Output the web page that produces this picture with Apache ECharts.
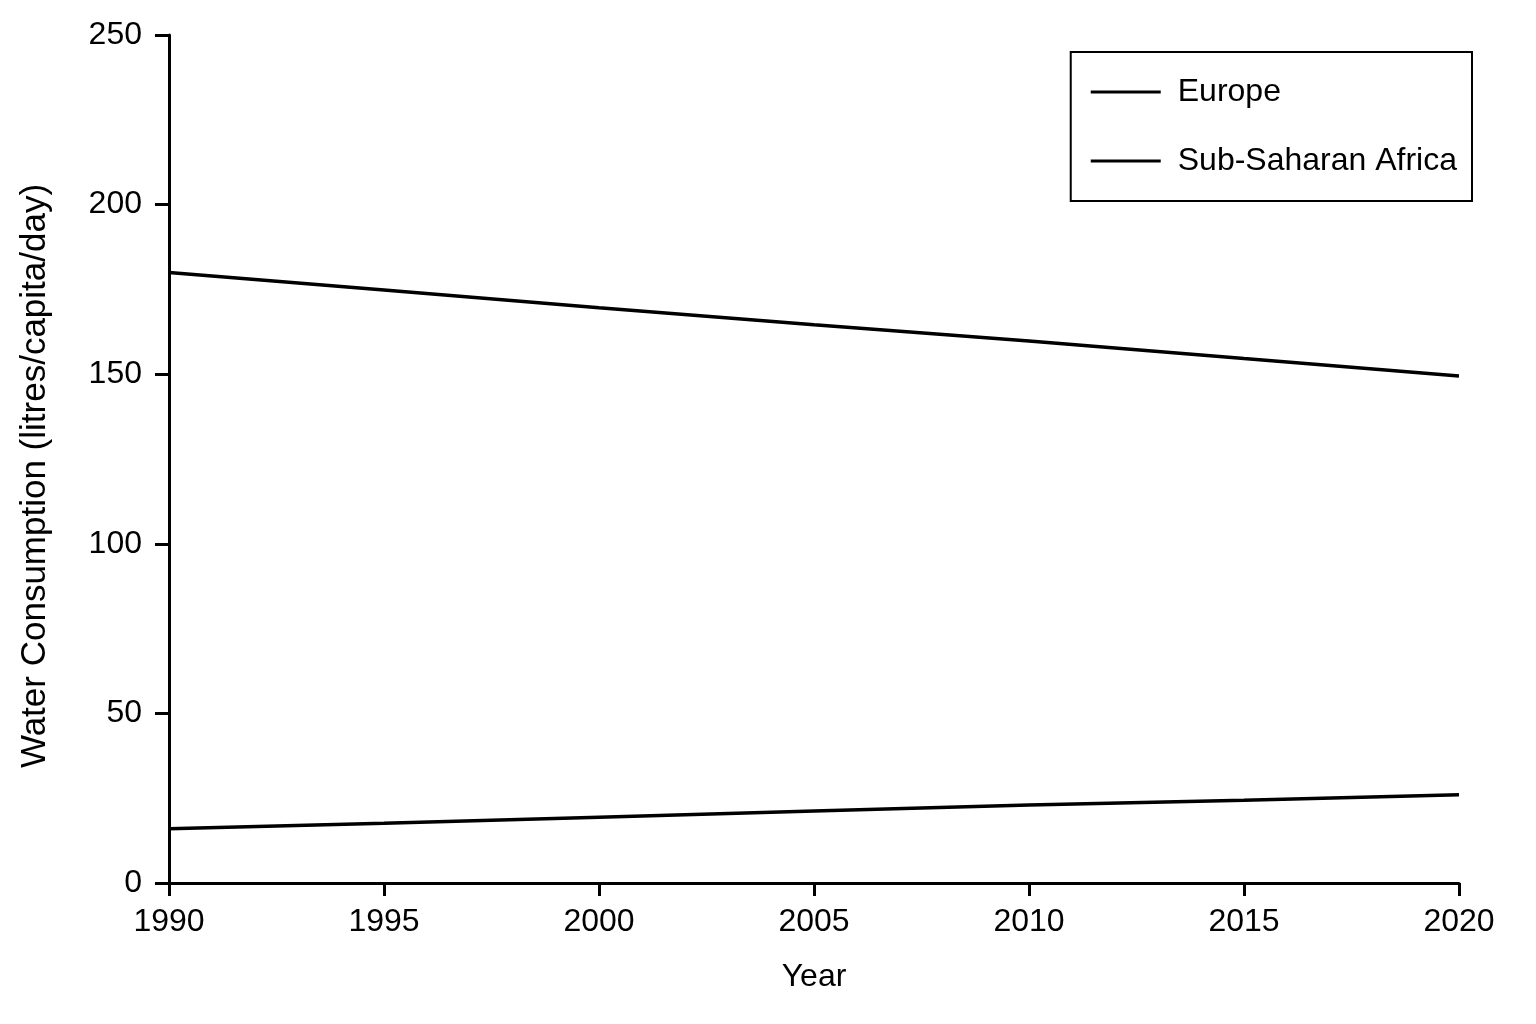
<!DOCTYPE html>
<html>
<head>
<meta charset="utf-8">
<title>Water Consumption</title>
<script src="https://cdn.jsdelivr.net/npm/echarts@6/dist/echarts.min.js"></script>
<style>
    html, body { margin: 0; padding: 0; background: #fff; }
    #chart { width: 1536px; height: 1024px; }
</style>
</head>
<body>
<div id="chart"></div>
<script>
    // data
    const years = [1990, 1995, 2000, 2005, 2010, 2015, 2020];
    const europe = [180, 174.8, 169.6, 164.6, 159.8, 154.6, 149.5];
    const subSaharan = [16, 17.6, 19.4, 21.2, 23, 24.4, 26];
    const seriesNames = ['Europe', 'Sub-Saharan Africa'];

    const font = 'Liberation Sans, Arial, sans-serif';
    const chart = echarts.init(document.getElementById('chart'));

    const toPairs = function (vals) {
        return years.map(function (y, i) { return [y, vals[i]]; });
    };

    const option = {
        backgroundColor: '#fff',
        animation: false,
        grid: {
            left: 169,
            right: 77,
            top: 35,
            bottom: 141
        },
        legend: {
            orient: 'vertical',
            right: 64,
            top: 52,
            data: seriesNames,
            icon: 'rect',
            itemWidth: 70,
            itemHeight: 3,
            itemGap: 37,
            padding: [24, 15, 24, 20],
            borderColor: '#000',
            borderWidth: 2,
            borderRadius: 0,
            itemStyle: { color: '#000' },
            textStyle: {
                fontFamily: font,
                fontSize: 32,
                color: '#000',
                padding: [0, 0, 0, 12]
            }
        },
        xAxis: {
            type: 'value',
            min: 1990,
            max: 2020,
            interval: 5,
            name: 'Year',
            nameLocation: 'middle',
            nameGap: 78,
            nameTextStyle: { fontFamily: font, fontSize: 32, color: '#000' },
            axisLine: { lineStyle: { color: '#000', width: 3 } },
            axisTick: { length: 13, lineStyle: { color: '#000', width: 3 } },
            axisLabel: {
                fontFamily: font,
                fontSize: 32,
                color: '#000',
                margin: 23,
                formatter: function (v) { return String(v); }
            },
            splitLine: { show: false }
        },
        yAxis: {
            type: 'value',
            min: 0,
            max: 250,
            interval: 50,
            name: 'Water Consumption (litres/capita/day)',
            nameLocation: 'middle',
            nameGap: 116,
            nameTextStyle: {
                fontFamily: font,
                fontSize: 35,
                color: '#000',
                padding: [0, 34, 0, 0]
            },
            axisLine: { show: true, lineStyle: { color: '#000', width: 3 } },
            axisTick: { show: true, length: 14, lineStyle: { color: '#000', width: 3 } },
            axisLabel: {
                fontFamily: font,
                fontSize: 32,
                color: '#000',
                margin: 27
            },
            splitLine: { show: false }
        },
        series: [
            {
                name: seriesNames[0],
                type: 'line',
                data: toPairs(europe),
                symbol: 'none',
                lineStyle: { color: '#000', width: 3.5 },
                itemStyle: { color: '#000' }
            },
            {
                name: seriesNames[1],
                type: 'line',
                data: toPairs(subSaharan),
                symbol: 'none',
                lineStyle: { color: '#000', width: 3.5 },
                itemStyle: { color: '#000' }
            }
        ]
    };
    chart.setOption(option);
</script>
</body>
</html>
